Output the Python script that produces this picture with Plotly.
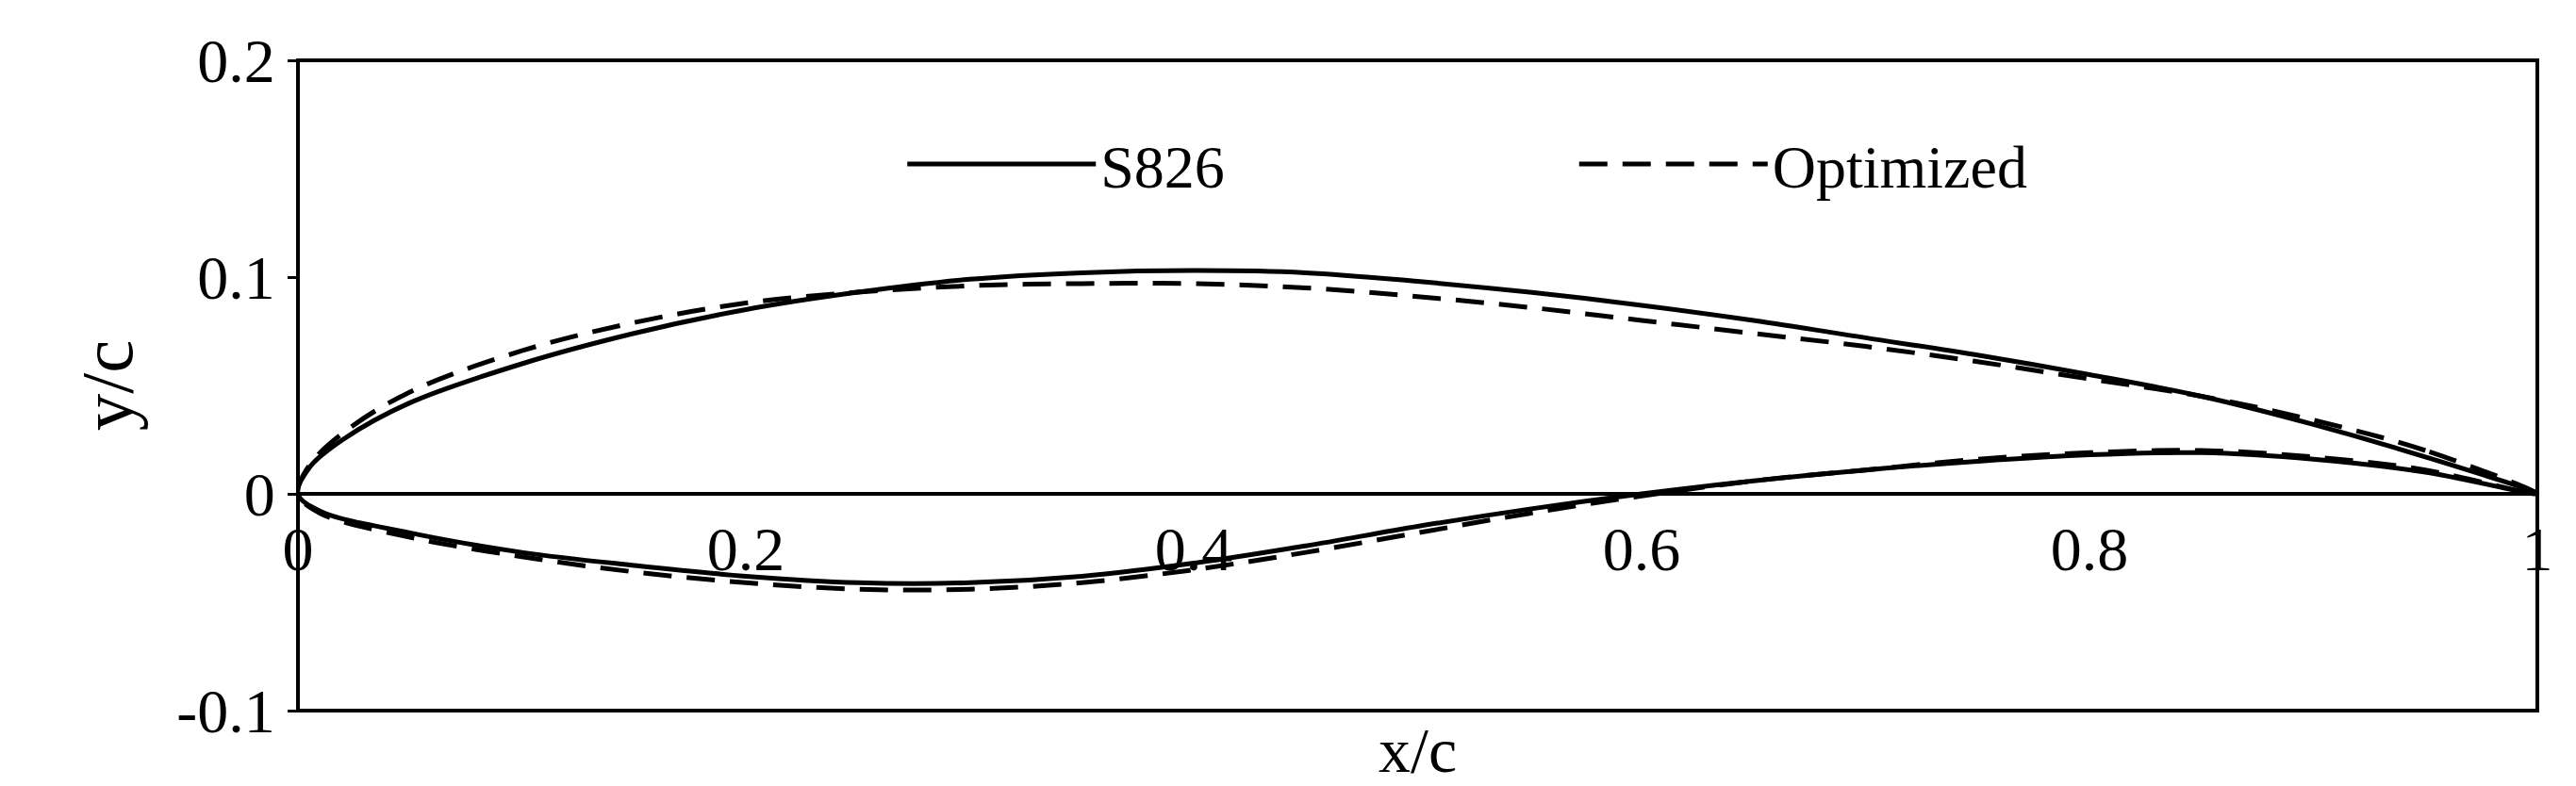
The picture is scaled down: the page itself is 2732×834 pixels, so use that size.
import plotly.graph_objects as go

# S826 and optimized airfoil coordinates
xu = [0, 0.005, 0.02, 0.05, 0.1, 0.15, 0.2, 0.25, 0.3, 0.35, 0.4, 0.45, 0.5, 0.55, 0.6, 0.65, 0.7, 0.75, 0.8, 0.85, 0.9, 0.95, 1]
s826_upper = [0, 0.012, 0.025, 0.042, 0.06, 0.074, 0.085, 0.093, 0.099, 0.102, 0.103, 0.102, 0.098, 0.093, 0.087, 0.08, 0.072, 0.064, 0.055, 0.045, 0.032, 0.017, 0]
opt_upper = [0, 0.013, 0.028, 0.047, 0.066, 0.079, 0.088, 0.093, 0.096, 0.097, 0.097, 0.095, 0.091, 0.086, 0.08, 0.074, 0.068, 0.061, 0.053, 0.045, 0.034, 0.02, 0]

xl = [0, 0.01, 0.05, 0.1, 0.15, 0.2, 0.25, 0.3, 0.35, 0.4, 0.45, 0.5, 0.55, 0.6, 0.65, 0.7, 0.75, 0.8, 0.85, 0.9, 0.95, 1]
s826_lower = [0, -0.008, -0.018, -0.027, -0.033, -0.038, -0.041, -0.041, -0.038, -0.032, -0.024, -0.015, -0.007, 0.0, 0.006, 0.011, 0.015, 0.018, 0.019, 0.016, 0.01, 0]
opt_lower = [0, -0.009, -0.02, -0.029, -0.036, -0.041, -0.044, -0.044, -0.041, -0.035, -0.027, -0.018, -0.009, -0.001, 0.006, 0.011, 0.016, 0.019, 0.02, 0.017, 0.011, 0]

xticks = [0, 0.2, 0.4, 0.6, 0.8, 1]
xtick_text = ["0", "0.2", "0.4", "0.6", "0.8", "1"]
yticks = [-0.1, 0, 0.1, 0.2]
ytick_text = ["-0.1", "0", "0.1", "0.2"]

FONT = "Liberation Serif"

fig = go.Figure()
fig.add_trace(go.Scatter(x=xu[::-1] + xl[1:], y=s826_upper[::-1] + s826_lower[1:], mode="lines",
                         line=dict(color="black", width=5, shape="spline"), name="S826"))
fig.add_trace(go.Scatter(x=xu[::-1] + xl[1:], y=opt_upper[::-1] + opt_lower[1:], mode="lines",
                         line=dict(color="black", width=5, dash="30px,16px", shape="spline"), name="Optimized"))

fig.update_layout(
    width=2732, height=834, paper_bgcolor="white", plot_bgcolor="white",
    margin=dict(l=308, r=49, t=56, b=88),
    font=dict(family=FONT, size=66, color="black"),
    showlegend=True,
    legend=dict(orientation="h", x=0.27, y=0.84, xanchor="left", yanchor="middle",
                bgcolor="rgba(0,0,0,0)", font=dict(size=64), itemwidth=200,
                entrywidth=0.3, entrywidthmode="fraction"),
    xaxis=dict(range=[0, 1], tickvals=xticks, ticktext=xtick_text, anchor="free", position=1/3,
               showgrid=False, zeroline=False, showline=True, linecolor="black", linewidth=4,
               ticks="", ticklabelposition="outside"),
    yaxis=dict(range=[-0.1, 0.2], tickvals=yticks, ticktext=ytick_text, showgrid=False,
               zeroline=False, showline=False, ticks="outside", ticklen=10, tickwidth=3,
               tickcolor="black", title=dict(text="y/c", standoff=20)),
    shapes=[dict(type="rect", xref="paper", yref="paper", x0=0, x1=1, y0=0, y1=1,
                 line=dict(color="black", width=4))],
    annotations=[dict(text="x/c", xref="paper", yref="paper", x=0.5, y=0, yshift=-2,
                      xanchor="center", yanchor="top", showarrow=False, font=dict(size=68))],
)

fig.write_html("out.html")
